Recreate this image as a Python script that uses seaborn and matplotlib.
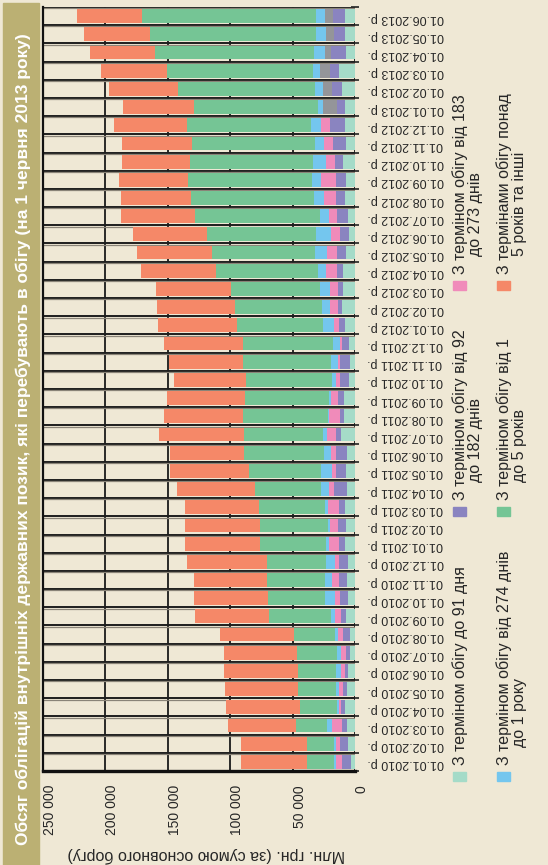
import numpy as np
import pandas as pd
import seaborn as sns
import matplotlib.pyplot as plt
from matplotlib.patches import Rectangle

# Monthly dates, 01.01.2010 ... 01.06.2013
dates = pd.date_range('2010-01-01', '2013-06-01', freq='MS').strftime('%d.%m.%Y р.').tolist()

# Values, mln UAH (chronological order)
teal = [3200, 5600, 6400, 8000, 6400, 5600, 4000, 4000, 7200, 5600, 6400, 5600,
        8000, 7200, 8000, 6400, 7200, 6400, 11200, 8800, 8800, 4800, 4000, 4800,
        8000, 10400, 9600, 9600, 7200, 4800, 5600, 8000, 7200, 9600, 7200, 8000,
        8000, 10400, 12800, 7200, 8000, 8000]
purple = [7200, 6400, 4000, 3200, 3200, 2400, 3200, 5600, 4000, 6400, 6400, 7200,
          4800, 6400, 4800, 10400, 8000, 8800, 4000, 3200, 4800, 7200, 8000, 5600,
          4800, 3200, 4000, 4800, 7200, 7200, 8800, 7200, 8000, 6400, 10400, 12000,
          6400, 8000, 7200, 12000, 8800, 9600]
pink = [4800, 3200, 8000, 1600, 3200, 3200, 4000, 4000, 4800, 4000, 5600, 3200,
        8000, 6400, 8800, 4000, 3200, 4000, 7200, 8800, 5600, 3200, 1600, 1600,
        4000, 6400, 6400, 9100, 8000, 7200, 6400, 9600, 12000, 7500, 7200, 7200,
        0, 0, 0, 0, 0, 0]
grey = [0] * 36 + [11200, 7200, 8000, 4800, 6400, 6400]
blue = [1600, 1600, 4000, 1600, 2400, 4000, 3200, 2400, 3200, 8000, 5600, 7200,
        2400, 1600, 2400, 6400, 8800, 5600, 3200, 800, 1600, 3200, 5600, 5600,
        8800, 6400, 8000, 6100, 9600, 12000, 7200, 8000, 7200, 10100, 7200, 8000,
        4000, 6400, 5600, 8800, 8000, 7200]
green = [21600, 21600, 24800, 29600, 30400, 30400, 32000, 32800, 49600, 45600, 46400, 47200,
         52800, 54400, 52800, 52800, 57600, 64000, 63200, 68000, 67200, 68800, 70400, 72000,
         68800, 69600, 71200, 81900, 82700, 87200, 100000, 98400, 99500, 98700, 98700, 99200,
         99200, 109900, 116800, 127200, 133100, 139500]
orange = [52800, 52800, 54400, 59200, 58400, 59200, 58400, 59200, 59200, 59200, 58400, 64000,
          60000, 60000, 59200, 62400, 63200, 59200, 68000, 63200, 62400, 57600, 59200, 63200,
          63200, 62400, 60000, 59700, 59700, 59200, 59200, 56000, 54900, 54100, 55700, 58400,
          56800, 54900, 52800, 52000, 52500, 51700]

value_ticks = [0, 50000, 100000, 150000, 200000, 250000]
value_labels = ['0', '50 000', '100 000', '150 000', '200 000', '250 000']

legend_labels = ['З терміном обігу до 91 дня',
                 'З терміном обігу від 92\n    до 182 днів',
                 'З терміном обігу від 183\n    до 273 днів',
                 'З терміном обігу від 274 днів\n    до 1 року',
                 'З терміном обігу від 1\n    до 5 років',
                 'З термінами обігу понад\n    5 років та інші']

title = 'Обсяг облігацій внутрішніх державних позик, які перебувають в обігу (на 1 червня 2013 року)'

colors = {'teal': '#a5dbc8', 'purple': '#8a84c0', 'pink': '#f08bba', 'grey': '#949599',
          'blue': '#74c6ee', 'green': '#75c595', 'orange': '#f58868'}

sns.set_style('white')
plt.rcParams['font.family'] = ['Liberation Sans', 'DejaVu Sans']

bg = '#efe8d5'
W, H = 548, 865
fig = plt.figure(figsize=(W / 100, H / 100), dpi=100, facecolor=bg)


def fx(px):
    return px / W


def fy(py):
    return 1 - py / H


ax = fig.add_axes([fx(43), fy(771), fx(355) - fx(43), fy(7) - fy(771)])
ax.set_facecolor(bg)

df = pd.DataFrame({'date': dates, 'teal': teal, 'purple': purple, 'pink': pink, 'grey': grey,
                   'blue': blue, 'green': green, 'orange': orange})
layers = ['teal', 'purple', 'pink', 'grey', 'blue', 'green', 'orange']
cum = df[layers].cumsum(axis=1)

# stacked bars: draw running totals from the outermost layer inwards
for name in layers[::-1]:
    sns.barplot(x=cum[name], y=df['date'], order=dates[::-1], orient='h',
                color=colors[name], width=0.76, saturation=1, linewidth=0,
                errorbar=None, ax=ax)

n = len(dates)
ax.set_xlim(250000, 0)
ax.set_ylim(n - 0.5, -0.5)
ax.set_xlabel('')
ax.set_ylabel('')

ax.set_xticks(value_ticks)
ax.set_xticklabels(value_labels, rotation=90, ha='left', va='top', fontsize=10)
ax.tick_params(axis='x', length=0, pad=10)
ax.grid(axis='x', color='#1a1a1a', lw=1.3)
ax.set_axisbelow(True)

bounds = np.arange(-0.5, n)
ax.hlines(bounds, 250000, 0, color='#1e1e1e', lw=1.4, zorder=0.8)
ax.hlines(bounds + 0.07, 250000, 0, color='#8a8478', lw=0.9, zorder=0.8)

ax.yaxis.tick_right()
ax.tick_params(axis='y', which='major', length=0, pad=9, labelsize=9, labelrotation=180)
ax.set_yticks(bounds, minor=True)
ax.tick_params(axis='y', which='minor', length=6, width=1.2, direction='inout', color='#222222')

for s in ['top', 'right']:
    ax.spines[s].set_visible(False)
ax.spines['left'].set_color('#111111')
ax.spines['left'].set_linewidth(1.6)
ax.spines['bottom'].set_color('#111111')
ax.spines['bottom'].set_linewidth(2.4)

fig.text(fx(206), fy(855), 'Млн. грн. (за сумою основного боргу)', rotation=180,
         ha='center', va='center', fontsize=11.5)

# title strip
fig.patches.append(Rectangle((fx(3), 0), fx(39) - fx(3), fy(3), transform=fig.transFigure,
                             color='#bbb073', zorder=0))
fig.text(fx(23), fy(439), title, rotation=90, color='white', fontweight='bold',
         fontsize=12.5, ha='center', va='center')

# legend
leg_colors = [colors[k] for k in ['teal', 'purple', 'pink', 'blue', 'green', 'orange']]
leg_x = [453, 453, 453, 497, 497, 497]
leg_y = [772, 507, 281, 772, 507, 281]
for lab, c, x0, y0 in zip(legend_labels, leg_colors, leg_x, leg_y):
    fig.patches.append(Rectangle((fx(x0), fy(y0 + 9)), 13 / W, 9 / H,
                                 transform=fig.transFigure, color=c))
    fig.text(fx(x0 - 1), fy(y0 - 7), lab, rotation=90, rotation_mode='anchor',
             ha='left', va='top', fontsize=11.5, linespacing=1.05)

fig.savefig('out.png', dpi=100, facecolor=bg)
